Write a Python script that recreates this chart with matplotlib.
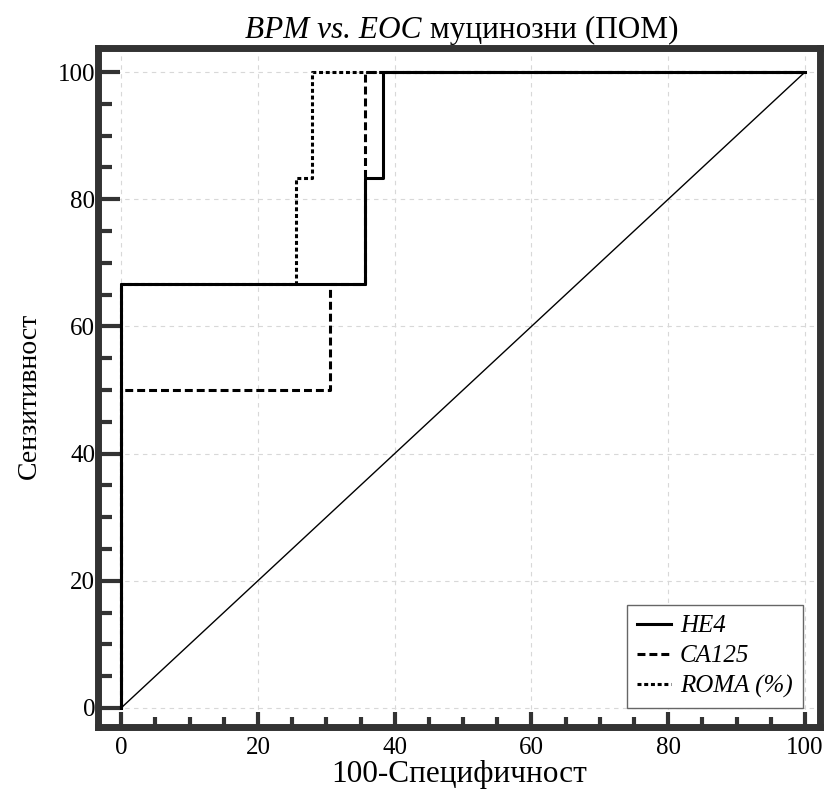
import matplotlib
matplotlib.use('Agg')
import matplotlib.pyplot as plt
from matplotlib.ticker import MultipleLocator

plt.rcParams['font.family'] = ['Liberation Serif', 'DejaVu Serif']

# ROC curves (100-specificity, sensitivity)
he4_x = [0, 0, 35.7, 35.7, 38.3, 38.3, 100]
he4_y = [0, 66.7, 66.7, 83.3, 83.3, 100, 100]
ca125_x = [0, 0, 30.6, 30.6, 35.7, 35.7, 100]
ca125_y = [0, 50, 50, 66.7, 66.7, 100, 100]
roma_x = [0, 0, 25.5, 25.5, 27.9, 27.9, 100]
roma_y = [0, 66.7, 66.7, 83.3, 83.3, 100, 100]
ref_x = [0, 100]
ref_y = [0, 100]

fig = plt.figure(figsize=(8.3, 7.98), dpi=100)
ax = fig.add_axes([0.118, 0.089, 0.870, 0.851])

ax.plot(ref_x, ref_y, color='black', lw=1.0, zorder=2)
ax.plot(he4_x, he4_y, color='black', lw=2.2, label='HE4', zorder=3)
ax.plot(ca125_x, ca125_y, color='black', lw=2.2, dashes=(2.6, 1.3), label='CA125', zorder=3)
ax.plot(roma_x, roma_y, color='black', lw=2.2, dashes=(1.3, 0.9), label='ROMA (%)', zorder=3)

ax.set_xlim(-3.4, 102.2)
ax.set_ylim(-3.0, 103.8)
ax.xaxis.set_major_locator(MultipleLocator(20))
ax.xaxis.set_minor_locator(MultipleLocator(5))
ax.yaxis.set_major_locator(MultipleLocator(20))
ax.yaxis.set_minor_locator(MultipleLocator(5))

ax.grid(True, which='major', color='#d8d8d8', ls=(0, (4, 4)), lw=0.8)

for sp in ax.spines.values():
    sp.set_linewidth(5)
    sp.set_color('#333333')

# ticks point inwards and reach the zero lines
ax.tick_params(axis='y', which='major', direction='in', length=15.5, width=3,
               color='#333333', labelsize=18, pad=2, right=False)
ax.tick_params(axis='y', which='minor', direction='in', length=10, width=3,
               color='#333333', right=False)
ax.tick_params(axis='x', which='major', direction='in', length=11, width=3,
               color='#333333', labelsize=18, pad=7, top=False)
ax.tick_params(axis='x', which='minor', direction='in', length=7.5, width=3,
               color='#333333', top=False)

ax.set_xlabel('100-Специфичност', fontsize=22.5, labelpad=1)
ax.set_ylabel('Сензитивност', fontsize=20)
ax.yaxis.set_label_coords(-0.078, 0.488)

# title: italic part followed by upright part on the same baseline
t1 = fig.text(245 / 830, 0.953, 'BPM vs. EOC', fontsize=22.5, style='italic',
              ha='left', va='baseline')
fig.canvas.draw()
ax.annotate(' муцинозни (ПОМ)', xy=(1, 0), xycoords=t1, fontsize=22.5,
            ha='left', va='bottom', annotation_clip=False)

leg = ax.legend(loc='lower right', bbox_to_anchor=(0.976, 0.028), borderaxespad=0,
                fancybox=False, framealpha=1, edgecolor='#666666',
                prop={'style': 'italic', 'size': 18},
                handlelength=1.35, handletextpad=0.35, borderpad=0.4, labelspacing=0.3)
leg.get_frame().set_linewidth(1.0)

fig.savefig('out.png', dpi=100)
